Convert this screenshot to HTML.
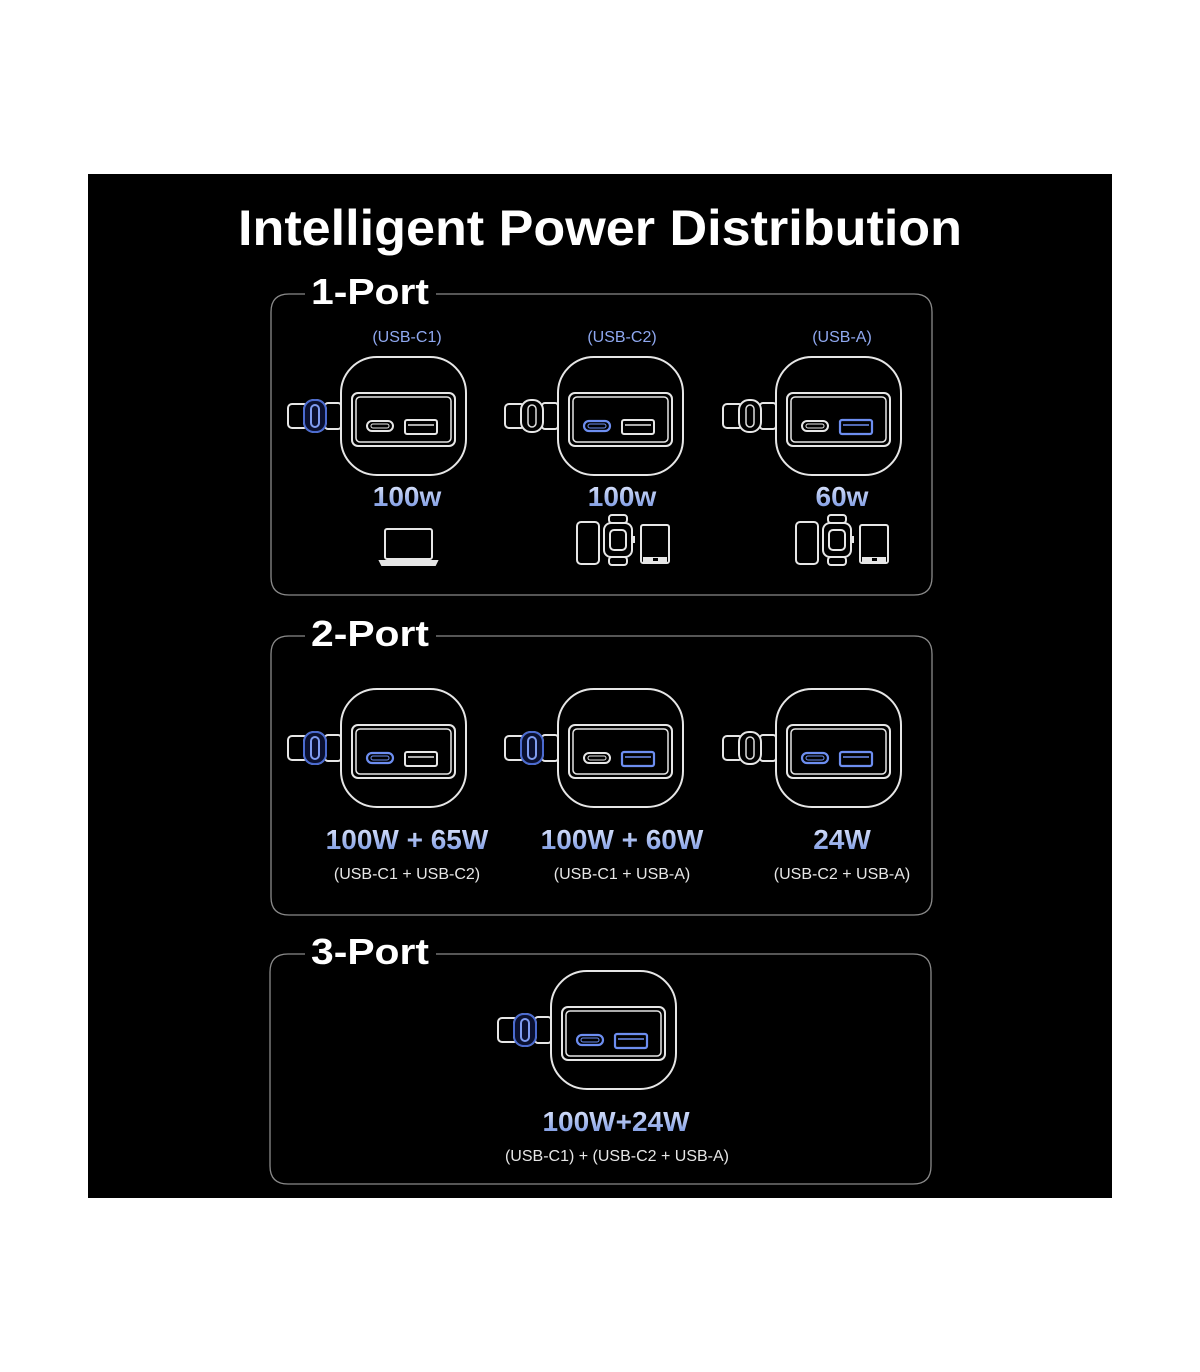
<!DOCTYPE html>
<html><head><meta charset="utf-8"><style>
html,body{margin:0;padding:0;background:#fff;}
svg{display:block}
text{font-family:"Liberation Sans",sans-serif;}
</style></head><body>
<svg width="1200" height="1372" viewBox="0 0 1200 1372" xmlns="http://www.w3.org/2000/svg">
<defs>
<linearGradient id="bl" x1="0" y1="0" x2="0" y2="1">
<stop offset="0" stop-color="#e8eeff"/><stop offset="1" stop-color="#6f8fe0"/>
</linearGradient>
<g id="ch" fill="none" stroke="#e6e6e6" stroke-width="2">
<rect x="0" y="0" width="125" height="118" rx="36"/>
<rect x="11" y="36" width="103" height="53" rx="6"/>
<rect x="15" y="40" width="95" height="45" rx="4" stroke-width="1.5"/>
<rect x="-53" y="47" width="20" height="24" rx="4"/>
<rect x="-16" y="46" width="16" height="26" rx="3"/>
<rect x="-37" y="43" width="22" height="32" rx="10" fill="#000"/>
</g>
<g id="pw"><rect x="-30" y="48" width="8" height="22" rx="4" fill="none" stroke="#ddd" stroke-width="1.5"/></g>
<g id="pb"><rect x="-37" y="43" width="22" height="32" rx="10" fill="#0a1030" stroke="#4a6ad0" stroke-width="2"/><rect x="-30" y="48" width="8" height="22" rx="4" fill="none" stroke="#7f9cf0" stroke-width="2"/></g>
<g id="cw" fill="none" stroke="#e6e6e6"><rect x="26" y="64" width="26" height="10" rx="5" stroke-width="2"/><rect x="30" y="67" width="18" height="4" rx="2" stroke-width="1"/></g>
<g id="cb" fill="none" stroke="#6d8ef0"><rect x="26" y="64" width="26" height="10" rx="5" stroke-width="2.2"/><rect x="30" y="67" width="18" height="4" rx="2" stroke-width="1"/></g>
<g id="aw" fill="none" stroke="#e6e6e6"><rect x="64" y="63" width="32" height="14" rx="2" stroke-width="2"/><line x1="67" y1="68" x2="93" y2="68" stroke-width="1.5"/></g>
<g id="ab" fill="none" stroke="#6d8ef0"><rect x="64" y="63" width="32" height="14" rx="2" stroke-width="2.2"/><line x1="67" y1="68" x2="93" y2="68" stroke-width="1.5"/></g>
<g id="dev" fill="none" stroke="#e6e6e6" stroke-width="2">
<rect x="0" y="0" width="22" height="42" rx="4"/>
<rect x="32" y="-7" width="18" height="8" rx="3"/>
<rect x="32" y="35" width="18" height="8" rx="3"/>
<rect x="27" y="1" width="28" height="34" rx="7"/>
<rect x="33" y="8" width="16" height="20" rx="4"/>
<rect x="55" y="14" width="3" height="7" fill="#e6e6e6" stroke="none"/>
<rect x="64" y="3" width="28" height="38" rx="2"/>
<rect x="66" y="35" width="24" height="6" fill="#e6e6e6" stroke="none"/>
<rect x="76" y="36" width="5" height="3" fill="#000" stroke="none"/>
</g>
</defs>
<rect x="88" y="174" width="1024" height="1024" fill="#000"/>
<text x="600" y="245" text-anchor="middle" font-size="50" font-weight="bold" fill="#fff" textLength="724" lengthAdjust="spacingAndGlyphs">Intelligent Power Distribution</text>

<g fill="none" stroke="#8a8a8a" stroke-width="1.3">
<path d="M305 294 H289 Q271 294 271 312 V577 Q271 595 289 595 H914 Q932 595 932 577 V312 Q932 294 914 294 H436"/>
<path d="M305 636 H289 Q271 636 271 654 V897 Q271 915 289 915 H914 Q932 915 932 897 V654 Q932 636 914 636 H436"/>
<path d="M305 954 H288 Q270 954 270 972 V1166 Q270 1184 288 1184 H913 Q931 1184 931 1166 V972 Q931 954 913 954 H436"/>
</g>
<g font-size="36" font-weight="bold" fill="#fff">
<text x="311" y="304" textLength="118" lengthAdjust="spacingAndGlyphs">1-Port</text>
<text x="311" y="646" textLength="118" lengthAdjust="spacingAndGlyphs">2-Port</text>
<text x="311" y="964" textLength="118" lengthAdjust="spacingAndGlyphs">3-Port</text>
</g>

<g font-size="16" fill="#8fa8f0" text-anchor="middle">
<text x="407" y="342">(USB-C1)</text>
<text x="622" y="342">(USB-C2)</text>
<text x="842" y="342">(USB-A)</text>
</g>

<!-- 1-port -->
<g transform="translate(341,357)"><use href="#ch"/><use href="#pb"/><use href="#cw"/><use href="#aw"/></g>
<g transform="translate(558,357)"><use href="#ch"/><use href="#pw"/><use href="#cb"/><use href="#aw"/></g>
<g transform="translate(776,357)"><use href="#ch"/><use href="#pw"/><use href="#cw"/><use href="#ab"/></g>
<g font-size="28" font-weight="bold" fill="url(#bl)" text-anchor="middle">
<text x="407" y="506">100w</text>
<text x="622" y="506">100w</text>
<text x="842" y="506">60w</text>
</g>
<g fill="none" stroke="#e6e6e6" stroke-width="2">
<rect x="385" y="529" width="47" height="30" rx="2"/>
<path d="M380 561 H437 L435 565 H382 Z" fill="#e6e6e6"/>
</g>
<use href="#dev" transform="translate(577,522)"/>
<use href="#dev" transform="translate(796,522)"/>

<!-- 2-port -->
<g transform="translate(341,689)"><use href="#ch"/><use href="#pb"/><use href="#cb"/><use href="#aw"/></g>
<g transform="translate(558,689)"><use href="#ch"/><use href="#pb"/><use href="#cw"/><use href="#ab"/></g>
<g transform="translate(776,689)"><use href="#ch"/><use href="#pw"/><use href="#cb"/><use href="#ab"/></g>
<g font-size="28" font-weight="bold" fill="url(#bl)" text-anchor="middle">
<text x="407" y="849">100W + 65W</text>
<text x="622" y="849">100W + 60W</text>
<text x="842" y="849">24W</text>
</g>
<g font-size="16" fill="#e6e6e6" text-anchor="middle">
<text x="407" y="879">(USB-C1 + USB-C2)</text>
<text x="622" y="879">(USB-C1 + USB-A)</text>
<text x="842" y="879">(USB-C2 + USB-A)</text>
</g>

<!-- 3-port -->
<g transform="translate(551,971)"><use href="#ch"/><use href="#pb"/><use href="#cb"/><use href="#ab"/></g>
<text x="616" y="1131" font-size="28" font-weight="bold" fill="url(#bl)" text-anchor="middle">100W+24W</text>
<text x="617" y="1161" font-size="16" fill="#e6e6e6" text-anchor="middle">(USB-C1) + (USB-C2 + USB-A)</text>
</svg>
</body></html>
